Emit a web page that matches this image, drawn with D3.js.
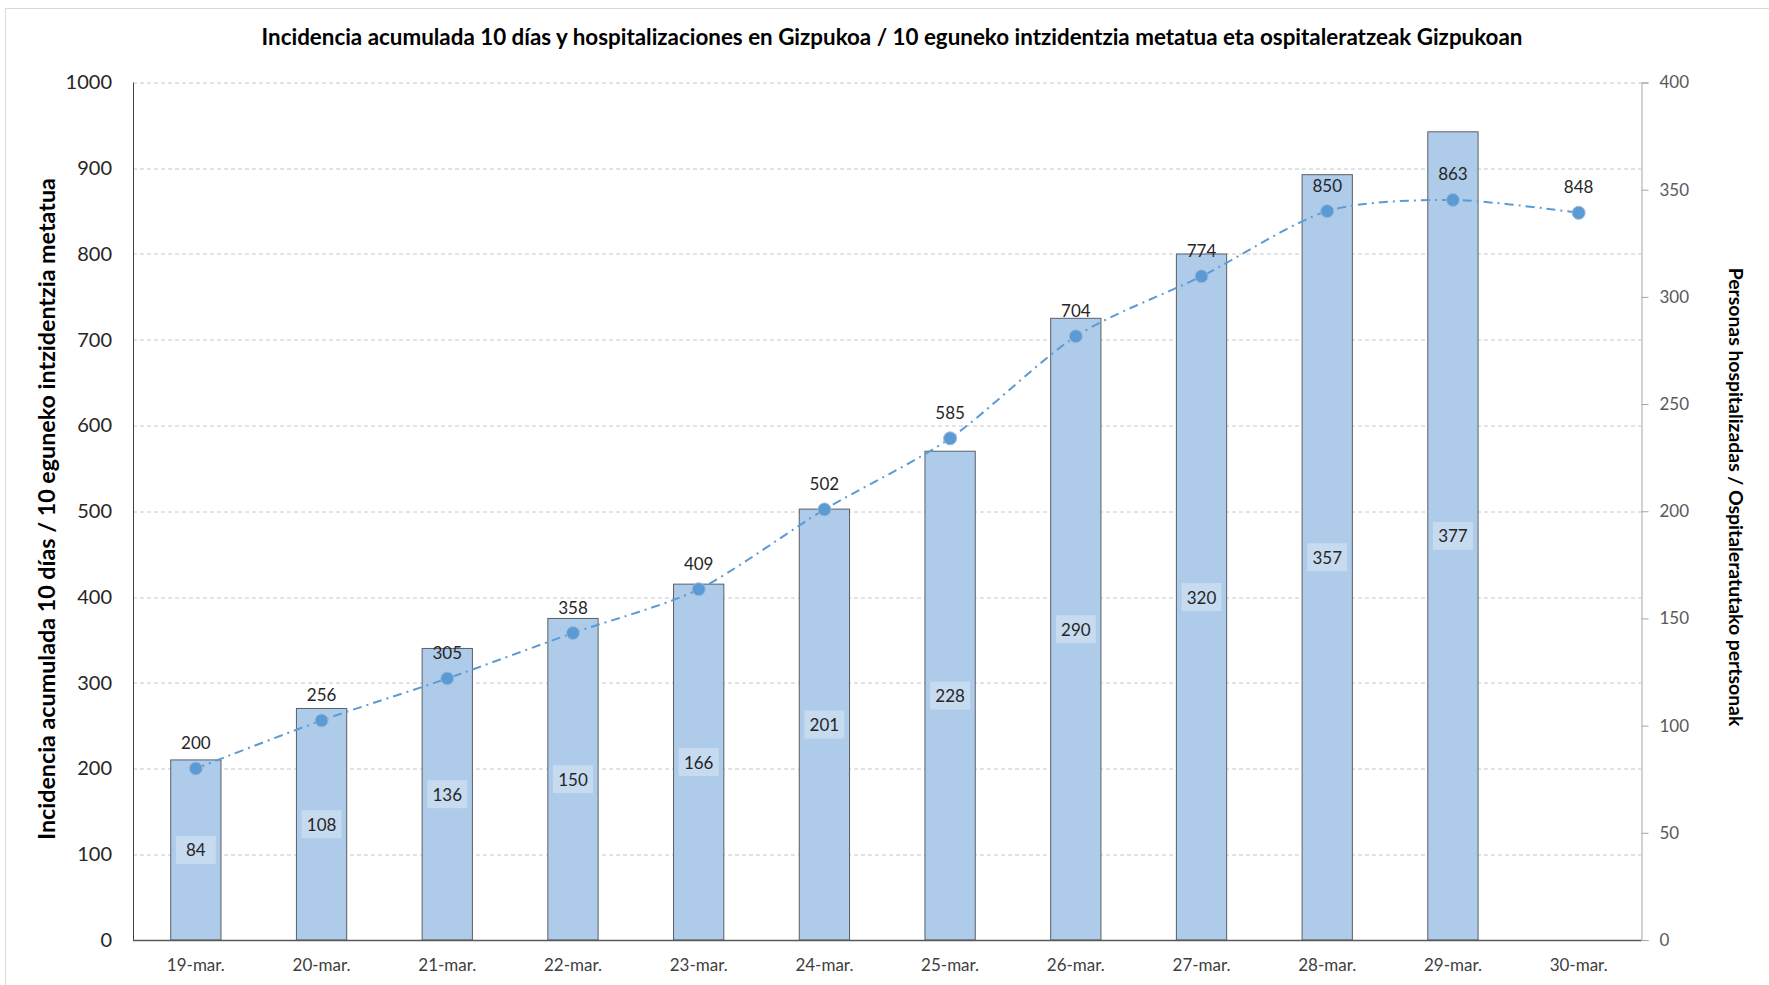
<!DOCTYPE html>
<html>
<head>
<meta charset="utf-8">
<script src="https://cdn.jsdelivr.net/npm/d3@7"></script>
<style>
  body { margin: 0; background: #fff; }
  svg { display: block; font-family: Lato, "Open Sans", sans-serif; }
</style>
</head>
<body>
<div id="chart"></div>
<script>
var dates = ["19-mar.", "20-mar.", "21-mar.", "22-mar.", "23-mar.", "24-mar.",
             "25-mar.", "26-mar.", "27-mar.", "28-mar.", "29-mar.", "30-mar."];
var incidence = [200, 256, 305, 358, 409, 502, 585, 704, 774, 850, 863, 848];
var hospital = [84, 108, 136, 150, 166, 201, 228, 290, 320, 357, 377, null];
var leftTicks = [0, 100, 200, 300, 400, 500, 600, 700, 800, 900, 1000];
var rightTicks = [0, 50, 100, 150, 200, 250, 300, 350, 400];

var titleText = "Incidencia acumulada 10 días y hospitalizaciones en Gizpukoa / 10 eguneko intzidentzia metatua eta ospitaleratzeak Gizpukoan";
var leftTitle = "Incidencia acumulada 10 días / 10 eguneko intzidentzia metatua";
var rightTitle = "Personas hospitalizadas / Ospitaleratutako pertsonak";

var W = 1769, H = 985;
var margin = {top: 82.5, right: W - 1641.5, bottom: H - 940, left: 133};
var width = W - margin.left - margin.right,
    height = H - margin.top - margin.bottom;

var svg = d3.select("#chart")
  .append("svg")
    .attr("width", W)
    .attr("height", H);

// chart area border
svg.append("rect")
  .attr("x", 5.5).attr("y", 8.5)
  .attr("width", W + 20).attr("height", H + 20)
  .attr("fill", "none")
  .attr("stroke", "#d9d9d9");

// fit a text to a target length by adjusting font size
function fitText(sel, target) {
  var len = sel.node().getComputedTextLength();
  var fs = parseFloat(sel.style("font-size"));
  sel.style("font-size", (fs * target / len) + "px");
}

var title = svg.append("text")
  .attr("x", 892).attr("y", 39)
  .attr("text-anchor", "middle")
  .attr("dominant-baseline", "middle")
  .style("font-weight", "bold")
  .style("font-size", "19px")
  .style("fill", "#000")
  .text(titleText);
fitText(title, 1262);

var g = svg.append("g")
  .attr("transform", "translate(" + margin.left + "," + margin.top + ")");

var x = d3.scaleBand()
  .domain(dates)
  .range([0, width])
  .paddingInner(0.6)
  .paddingOuter(0.3);

var yL = d3.scaleLinear().domain([0, 1000]).range([height, 0]);
var yR = d3.scaleLinear().domain([0, 400]).range([height, 0]);

// gridlines
g.append("g")
  .selectAll("line")
  .data(leftTicks.filter(function (d) { return d > 0; }))
  .join("line")
    .attr("x1", 0).attr("x2", width)
    .attr("y1", function (d) { return Math.round(yL(d)) + 0.5; })
    .attr("y2", function (d) { return Math.round(yL(d)) + 0.5; })
    .attr("stroke", "#c8c8c8")
    .attr("stroke-dasharray", "4,3");

// bars (right axis)
var barData = dates.map(function (d, i) { return {date: d, v: hospital[i]}; })
  .filter(function (d) { return d.v != null; });

g.append("g")
  .selectAll("rect")
  .data(barData)
  .join("rect")
    .attr("x", function (d) { return x(d.date); })
    .attr("y", function (d) { return yR(d.v); })
    .attr("width", x.bandwidth())
    .attr("height", function (d) { return height - yR(d.v); })
    .attr("fill", "#aecbea")
    .attr("stroke", "#5a5f66")
    .attr("stroke-width", 1);

// bar labels with light box
var barLab = g.append("g")
  .selectAll("g")
  .data(barData)
  .join("g")
    .attr("transform", function (d) {
      return "translate(" + (x(d.date) + x.bandwidth() / 2) + "," + ((yR(d.v) + height) / 2) + ")";
    });
barLab.append("rect")
  .attr("x", -20).attr("y", -14)
  .attr("width", 40).attr("height", 28)
  .attr("fill", "#fff")
  .attr("fill-opacity", 0.3);
barLab.append("text")
  .attr("text-anchor", "middle")
  .attr("dominant-baseline", "central")
  .style("font-size", "17px")
  .style("fill", "#262626")
  .text(function (d) { return d.v; });

// axes lines
g.append("line")
  .attr("x1", 0.5).attr("x2", 0.5).attr("y1", 0).attr("y2", height)
  .attr("stroke", "#404040");
g.append("line")
  .attr("x1", 0).attr("x2", width).attr("y1", height + 0.5).attr("y2", height + 0.5)
  .attr("stroke", "#595959").attr("stroke-width", 1.5);

// right axis
var rAxis = g.append("g")
  .attr("transform", "translate(" + width + ",0)")
  .call(d3.axisRight(yR).tickValues(rightTicks).tickSize(7).tickPadding(11));
rAxis.select(".domain").attr("stroke", "#a6a6a6");
rAxis.selectAll(".tick line").attr("stroke", "#a6a6a6");
rAxis.selectAll("text")
  .style("font-family", "Lato, sans-serif")
  .style("font-size", "17px")
  .style("fill", "#595959");

// left axis
var lAxis = g.append("g")
  .call(d3.axisLeft(yL).tickValues(leftTicks).tickFormat(d3.format("d"))
    .tickSize(0).tickPadding(21));
lAxis.select(".domain").remove();
lAxis.selectAll("text")
  .style("font-family", "Lato, sans-serif")
  .style("font-size", "20px")
  .style("fill", "#262626");

// x axis labels
var xAxis = g.append("g")
  .attr("transform", "translate(0," + height + ")")
  .call(d3.axisBottom(x).tickSize(0).tickPadding(19));
xAxis.select(".domain").remove();
xAxis.selectAll("text")
  .style("font-family", "Lato, sans-serif")
  .style("font-size", "17px")
  .style("fill", "#404040");

// incidence line (left axis)
var pts = dates.map(function (d, i) { return {date: d, v: incidence[i]}; });
var line = d3.line()
  .x(function (d) { return x(d.date) + x.bandwidth() / 2; })
  .y(function (d) { return yL(d.v); })
  .curve(d3.curveCardinal.tension(0.2));

g.append("path")
  .datum(pts)
  .attr("d", line)
  .attr("fill", "none")
  .attr("stroke", "#5b9bd5")
  .attr("stroke-width", 2)
  .attr("stroke-dasharray", "9,5,2,5");

g.append("g")
  .selectAll("circle")
  .data(pts)
  .join("circle")
    .attr("cx", function (d) { return x(d.date) + x.bandwidth() / 2; })
    .attr("cy", function (d) { return yL(d.v); })
    .attr("r", 6.5)
    .attr("fill", "#5b9bd5")
    .attr("stroke", "#9db9d6")
    .attr("stroke-width", 1);

g.append("g")
  .selectAll("text")
  .data(pts)
  .join("text")
    .attr("x", function (d) { return x(d.date) + x.bandwidth() / 2; })
    .attr("y", function (d) { return yL(d.v) - 26; })
    .attr("text-anchor", "middle")
    .attr("dominant-baseline", "central")
    .style("font-size", "17px")
    .style("fill", "#262626")
    .text(function (d) { return d.v; });

// axis titles
var lt = svg.append("text")
  .attr("transform", "translate(46,509)rotate(-90)")
  .attr("text-anchor", "middle")
  .attr("dominant-baseline", "central")
  .style("font-weight", "bold")
  .style("font-size", "20px")
  .style("fill", "#000")
  .text(leftTitle);
fitText(lt, 662);

var rt = svg.append("text")
  .attr("transform", "translate(1736,497)rotate(90)")
  .attr("text-anchor", "middle")
  .attr("dominant-baseline", "central")
  .style("font-weight", "bold")
  .style("font-size", "19px")
  .style("fill", "#000")
  .text(rightTitle);
fitText(rt, 459);
</script>
</body>
</html>
